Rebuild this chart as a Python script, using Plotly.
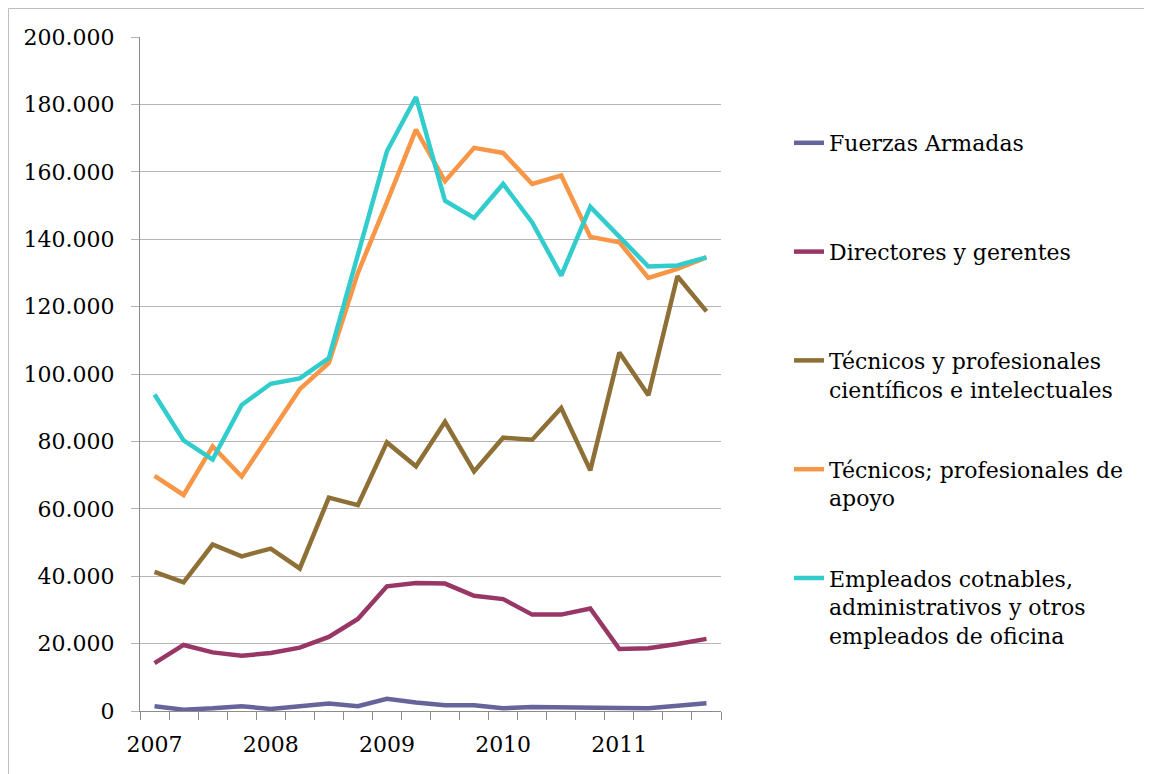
import plotly.graph_objects as go

# quarterly series 2007-2011
quarters = [f"{y}-T{q}" for y in range(2007, 2012) for q in range(1, 5)]
year_labels = ["2007", "2008", "2009", "2010", "2011"]

fuerzas = [1400, 400, 800, 1400, 600, 1400, 2200, 1400, 3600, 2500,
           1700, 1700, 800, 1200, 1200, 1200, 900, 800, 1400, 2300]
directores = [14200, 19600, 17400, 16400, 17200, 18800, 22000, 27300, 37000, 38000,
              37800, 34200, 33200, 28600, 28600, 30400, 18400, 18600, 19900, 21400]
tecnicos_cient = [41300, 38200, 49400, 45900, 48200, 42300, 63300, 61100, 79700, 72600,
                  85800, 71100, 81100, 80500, 89900, 71400, 106400, 93700, 129000, 118600]
tecnicos_apoyo = [69800, 64100, 78500, 69600, 82500, 95500, 103300, 130000, 151000, 172500,
                  157200, 167100, 165600, 156400, 158900, 140700, 139100, 128500, 131200, 134600]
empleados = [93900, 80300, 74600, 90800, 97100, 98700, 104700, 135000, 166100, 182200,
             151400, 146300, 156400, 145000, 129200, 149600, 140800, 131900, 132200, 134600]

names = ["Fuerzas Armadas",
         "Directores y gerentes",
         "Técnicos y profesionales<br>científicos e intelectuales",
         "Técnicos; profesionales de<br>apoyo",
         "Empleados cotnables,<br>administrativos y otros<br>empleados de oficina"]
series = [fuerzas, directores, tecnicos_cient, tecnicos_apoyo, empleados]
colors = ["#65659c", "#983766", "#8e7036", "#f79646", "#33cccc"]

FONT = "DejaVu Serif"
GRID = "#b4b4b4"
x = list(range(len(quarters)))

# page has an 8px body margin, so the figure is a bit smaller than the window
W, H = 1144, 766
L, T = 132, 29
PW, PH = 581, 674

fig = go.Figure()
for i, (nm, ys, c) in enumerate(zip(names, series, colors)):
    # pad every legend label to 3 lines so the entries are evenly spaced
    pad = 3 - (nm.count("<br>") + 1)
    label = nm + "<br>\u00a0" * pad
    fig.add_trace(go.Scatter(x=x, y=ys, mode="lines", name=label,
                             legendgroup=str(i), customdata=quarters,
                             line=dict(color=c, width=4.5)))

# outer chart border: only top and left edges are visible in the page
px0, px1 = (0.5 - L) / PW, (W - L) / PW
py0, py1 = (T + PH - H) / PH, (T + PH - 0.5) / PH
border = dict(color="#bdbdbd", width=1)
fig.add_shape(type="line", xref="paper", yref="paper",
              x0=px0, x1=px1, y0=py1, y1=py1, line=border)
fig.add_shape(type="line", xref="paper", yref="paper",
              x0=px0, x1=px0, y0=py0, y1=py1, line=border)

fig.update_layout(
    width=W, height=H,
    margin=dict(l=L, r=W - L - PW, t=T, b=H - T - PH),
    paper_bgcolor="white", plot_bgcolor="white",
    separators=",.",
    font=dict(family=FONT, size=22, color="black"),
    showlegend=True,
    legend=dict(x=(789 - 140) / PW, xanchor="left", xref="paper",
                y=(711 - 122) / PH, yanchor="top", yref="paper",
                valign="top", traceorder="grouped", tracegroupgap=20,
                font=dict(family=FONT, size=22, color="black"),
                bgcolor="rgba(0,0,0,0)"),
    xaxis=dict(range=[-0.5, 19.5], tickmode="array",
               tickvals=[0, 4, 8, 12, 16], ticktext=year_labels,
               ticks="", showgrid=False, zeroline=False,
               showline=True, linecolor="#8c8c8c", linewidth=1,
               ticklabelstandoff=14,
               minor=dict(tick0=-0.5, dtick=1, ticks="outside",
                          ticklen=8, tickcolor="#8c8c8c", showgrid=False),
               tickfont=dict(family=FONT, size=22)),
    yaxis=dict(range=[0, 200000], dtick=20000, tickformat=",d",
               showgrid=True, gridcolor=GRID, gridwidth=1, zeroline=False,
               showline=True, linecolor="#8c8c8c", linewidth=1,
               ticks="outside", ticklen=8, tickcolor=GRID,
               ticklabelstandoff=12,
               tickfont=dict(family=FONT, size=22)),
)

fig.write_html("out.html")
